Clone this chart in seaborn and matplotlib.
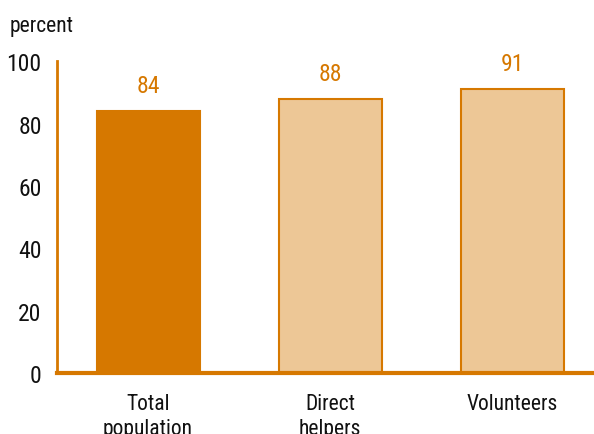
import numpy as np
import pandas as pd
import seaborn as sns
from matplotlib import pyplot as plt

# values
categories = ['Total\npopulation', 'Direct\nhelpers', 'Volunteers']
values = [84, 88, 91]
bar_colors = ['#D67800', '#EDC796', '#EDC796']
orange = '#D67800'

sns.set_theme(style='white')
plt.rcParams['font.family'] = ['Roboto Condensed', 'Liberation Sans Narrow', 'Roboto', 'DejaVu Sans']

df = pd.DataFrame({'group': categories, 'pct': values})

fig = plt.figure(figsize=(5.94, 4.35), dpi=100)
ax = fig.add_axes([0.096, 0.140, 0.904, 0.717])

sns.barplot(data=df, x='group', y='pct', hue='group', palette=bar_colors,
            legend=False, width=0.566, edgecolor=orange, linewidth=1.5,
            saturation=1, ax=ax)

for i, v in enumerate(values):
    ax.text(i, v + 4.5, str(v), ha='center', va='bottom', color=orange, fontsize=17)

ax.set_ylim(0, 100)
ax.set_xlim(-0.5, 2.45)
ax.set_yticks(range(0, 101, 20))
ax.set_xlabel('')
ax.set_ylabel('')
for s in ['top', 'right']:
    ax.spines[s].set_visible(False)
ax.spines['left'].set_color(orange)
ax.spines['bottom'].set_color(orange)
ax.spines['left'].set_linewidth(2)
ax.spines['bottom'].set_linewidth(3)
ax.tick_params(axis='y', direction='in', length=10, width=2, color=orange,
               labelsize=17, pad=11, labelcolor='#111111')
ax.tick_params(axis='x', length=0, labelsize=15.5, pad=14, labelcolor='#111111')
for lab in ax.get_xticklabels():
    lab.set_linespacing(1.3)

fig.text(0.017, 0.938, 'percent', fontsize=15.5, color='#111111', ha='left', va='center')

fig.savefig('out.png', dpi=100)
